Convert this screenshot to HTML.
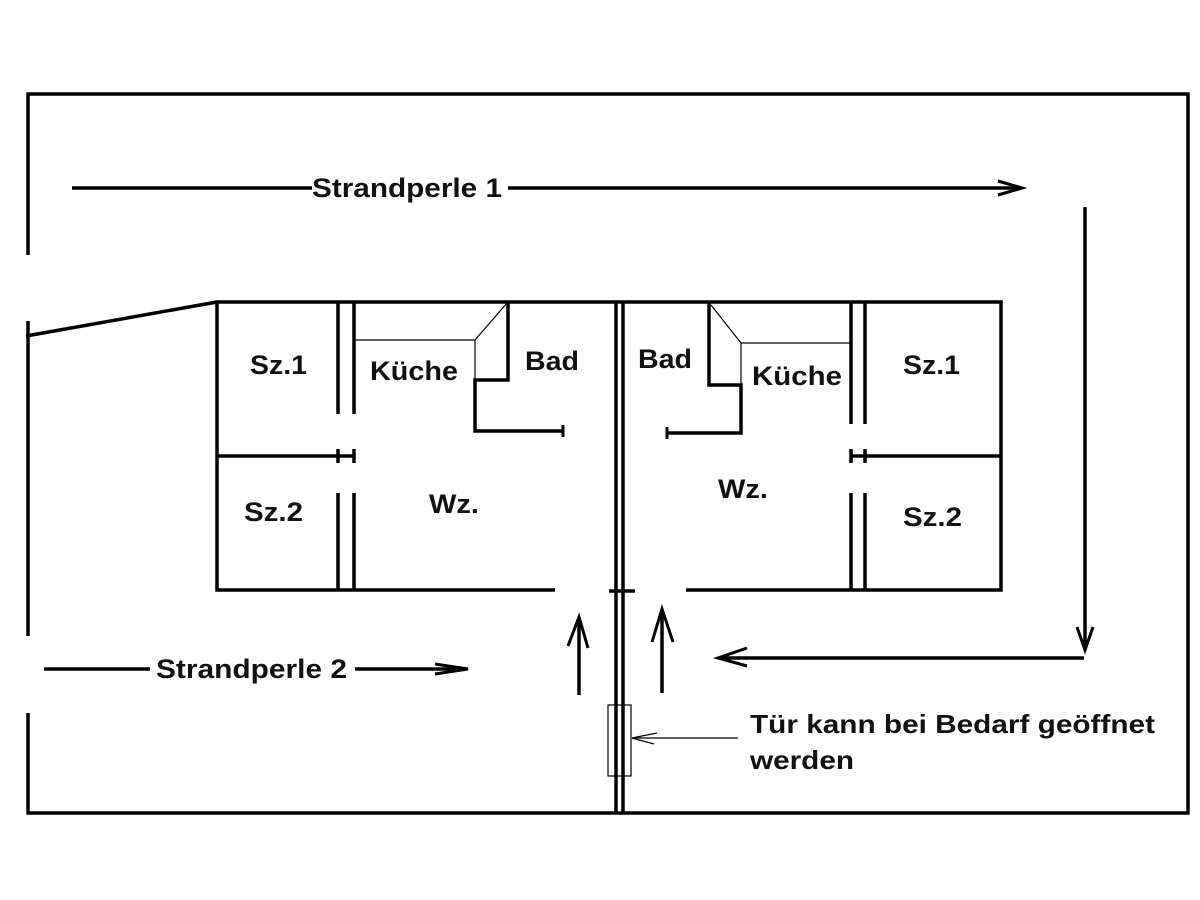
<!DOCTYPE html>
<html><head><meta charset="utf-8"><style>
html,body{margin:0;padding:0;background:#fff;}
svg{display:block;}
text{font-family:"Liberation Sans",Arial,sans-serif;font-weight:bold;fill:#111;}
</style></head><body>
<svg width="1200" height="900" viewBox="0 0 1200 900" xmlns="http://www.w3.org/2000/svg">
<g stroke="#000" stroke-width="3.5" fill="none" stroke-linecap="butt">
<polyline points="28,255 28,94 1188,94 1188,813 28,813 28,713"/>
<line x1="28" y1="321" x2="28" y2="636"/>
<line x1="26" y1="336" x2="217" y2="302"/>
<polyline points="555,590 217,590 217,302 1001,302 1001,590 686,590"/>
<line x1="217" y1="456" x2="354" y2="456"/>
<line x1="851" y1="456" x2="1001" y2="456"/>
<line x1="338" y1="302" x2="338" y2="414"/>
<line x1="354" y1="302" x2="354" y2="414"/>
<line x1="338" y1="449" x2="338" y2="463"/>
<line x1="354" y1="449" x2="354" y2="463"/>
<line x1="338" y1="493" x2="338" y2="590"/>
<line x1="354" y1="493" x2="354" y2="590"/>
<polyline points="508,302 508,380 475,380 475,431 563,431"/>
<line x1="563" y1="425" x2="563" y2="437" stroke-width="3"/>
<line x1="851" y1="302" x2="851" y2="424"/>
<line x1="865" y1="302" x2="865" y2="424"/>
<line x1="851" y1="449" x2="851" y2="463"/>
<line x1="865" y1="449" x2="865" y2="463"/>
<line x1="851" y1="493" x2="851" y2="590"/>
<line x1="865" y1="493" x2="865" y2="590"/>
<polyline points="709,302 709,385 741,385 741,433 667,433"/>
<line x1="667" y1="427" x2="667" y2="439" stroke-width="3"/>
<line x1="616" y1="302" x2="616" y2="813"/>
<line x1="623" y1="302" x2="623" y2="813"/>
<line x1="609" y1="591" x2="635" y2="591"/>
<line x1="72" y1="188" x2="312" y2="188"/>
<line x1="508" y1="188" x2="1020" y2="188"/>
<polyline points="998,181 1022,188 998,195" stroke-width="3"/>
<line x1="1085" y1="207" x2="1085" y2="650"/>
<polyline points="1077,627 1085,650 1093,627" stroke-width="3"/>
<line x1="1084" y1="658" x2="720" y2="658"/>
<polyline points="747,648 718,658 747,666" stroke-width="3"/>
<line x1="579" y1="695" x2="579" y2="618"/>
<polyline points="568,646 579,617 588,648" stroke-width="3"/>
<line x1="662" y1="693" x2="662" y2="610"/>
<polyline points="652,642 662,609 673,642" stroke-width="3"/>
<line x1="44" y1="669" x2="150" y2="669"/>
<line x1="355" y1="669" x2="466" y2="669"/>
<polyline points="435,664 468,669 435,674" stroke-width="3"/>
</g>
<g stroke="#000" stroke-width="1.2" fill="none">
<line x1="354" y1="340" x2="475" y2="340"/>
<line x1="475" y1="340" x2="507" y2="303"/>
<line x1="475" y1="340" x2="475" y2="380"/>
<line x1="741" y1="343" x2="851" y2="343"/>
<line x1="711" y1="305" x2="741" y2="343"/>
<line x1="741" y1="343" x2="741" y2="385"/>
<rect x="608" y="705" width="23" height="71"/>
<line x1="632" y1="738" x2="738" y2="738"/>
<line x1="632" y1="738" x2="657" y2="733"/>
<line x1="632" y1="738" x2="654" y2="744"/>
</g>
<text x="312" y="197" font-size="27" textLength="190" lengthAdjust="spacingAndGlyphs">Strandperle 1</text>
<text x="156" y="678" font-size="27" textLength="191" lengthAdjust="spacingAndGlyphs">Strandperle 2</text>
<text x="250" y="374" font-size="27" textLength="57" lengthAdjust="spacingAndGlyphs">Sz.1</text>
<text x="370" y="380" font-size="27" textLength="88" lengthAdjust="spacingAndGlyphs">Küche</text>
<text x="525" y="370" font-size="27" textLength="54" lengthAdjust="spacingAndGlyphs">Bad</text>
<text x="244" y="521" font-size="27" textLength="59" lengthAdjust="spacingAndGlyphs">Sz.2</text>
<text x="429" y="513" font-size="27" textLength="50" lengthAdjust="spacingAndGlyphs">Wz.</text>
<text x="638" y="368" font-size="27" textLength="54" lengthAdjust="spacingAndGlyphs">Bad</text>
<text x="752" y="385" font-size="27" textLength="90" lengthAdjust="spacingAndGlyphs">Küche</text>
<text x="903" y="374" font-size="27" textLength="57" lengthAdjust="spacingAndGlyphs">Sz.1</text>
<text x="718" y="498" font-size="27" textLength="50" lengthAdjust="spacingAndGlyphs">Wz.</text>
<text x="903" y="526" font-size="27" textLength="59" lengthAdjust="spacingAndGlyphs">Sz.2</text>
<text x="750" y="733" font-size="26" textLength="405" lengthAdjust="spacingAndGlyphs">Tür kann bei Bedarf geöffnet</text>
<text x="750" y="769" font-size="26" textLength="104" lengthAdjust="spacingAndGlyphs">werden</text>
</svg>
</body></html>
